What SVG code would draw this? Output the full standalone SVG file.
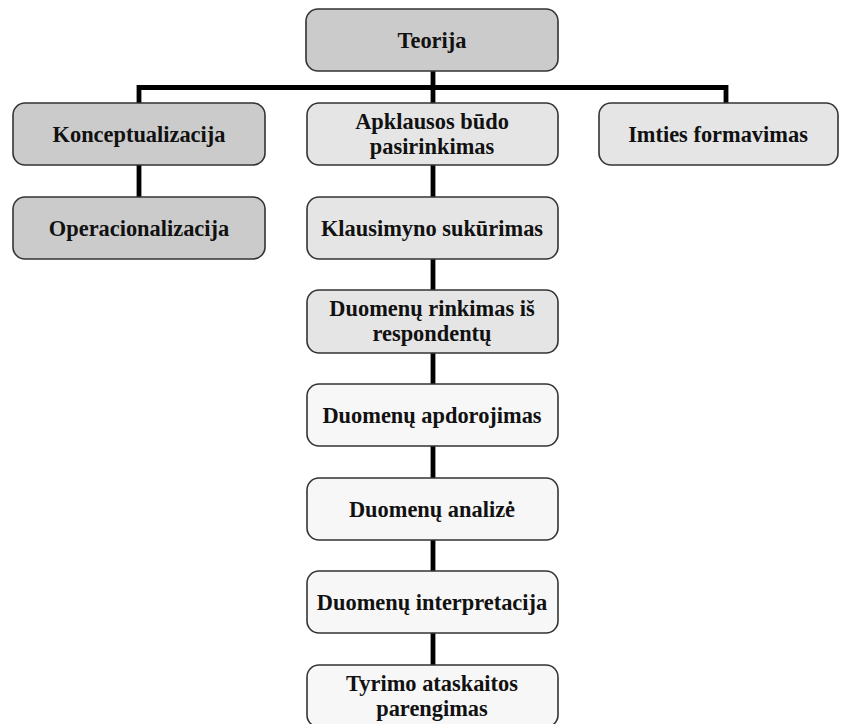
<svg xmlns="http://www.w3.org/2000/svg" width="841" height="724" viewBox="0 0 841 724">
<style>
.box{stroke:#333;stroke-width:1.6}
.d{fill:#cbcbcb}
.l{fill:#e5e5e5}
.w{fill:#f7f7f7}
text{font-family:"Liberation Serif","Times New Roman",serif;font-weight:bold;font-size:22.4px;fill:#111;text-anchor:middle}
.c{fill:none;stroke:#000;stroke-width:4.8;stroke-linejoin:miter}
</style>
<rect width="841" height="724" fill="#fff"/>
<g id="connectors">
<path class="c" d="M139,103 V87.5 H726 V103"/>
<path class="c" d="M433,71 V103"/>
<path class="c" d="M139,165 V197"/>
<path class="c" d="M433,165 V197"/>
<path class="c" d="M433,259 V290"/>
<path class="c" d="M433,353 V384"/>
<path class="c" d="M433,446 V478"/>
<path class="c" d="M433,540 V571"/>
<path class="c" d="M433,633 V665"/>
</g>
<g id="teorija"><rect class="box d" x="306" y="9" width="252" height="62" rx="12"/><text x="432" y="48">Teorija</text></g>
<g id="konceptualizacija"><rect class="box d" x="13" y="103" width="252" height="62" rx="12"/><text x="139" y="142">Konceptualizacija</text></g>
<g id="operacionalizacija"><rect class="box d" x="13" y="197" width="252" height="62" rx="12"/><text x="139" y="236">Operacionalizacija</text></g>
<g id="apklausos"><rect class="box l" x="307" y="103" width="251" height="62" rx="12"/><text x="432" y="129">Apklausos būdo</text><text x="432" y="154">pasirinkimas</text></g>
<g id="imties"><rect class="box l" x="599" y="103" width="239" height="62" rx="12"/><text x="718" y="142">Imties formavimas</text></g>
<g id="klausimyno"><rect class="box l" x="307" y="197" width="251" height="62" rx="12"/><text x="432" y="236">Klausimyno sukūrimas</text></g>
<g id="rinkimas"><rect class="box l" x="307" y="290" width="251" height="63" rx="12"/><text x="432" y="316">Duomenų rinkimas iš</text><text x="432" y="341">respondentų</text></g>
<g id="apdorojimas"><rect class="box w" x="307" y="384" width="251" height="62" rx="12"/><text x="432" y="423">Duomenų apdorojimas</text></g>
<g id="analize"><rect class="box w" x="307" y="478" width="251" height="62" rx="12"/><text x="432" y="517">Duomenų analizė</text></g>
<g id="interpretacija"><rect class="box w" x="307" y="571" width="251" height="62" rx="12"/><text x="432" y="610">Duomenų interpretacija</text></g>
<g id="tyrimo"><rect class="box w" x="307" y="665" width="251" height="62" rx="12"/><text x="432" y="691">Tyrimo ataskaitos</text><text x="432" y="716">parengimas</text></g>
</svg>
